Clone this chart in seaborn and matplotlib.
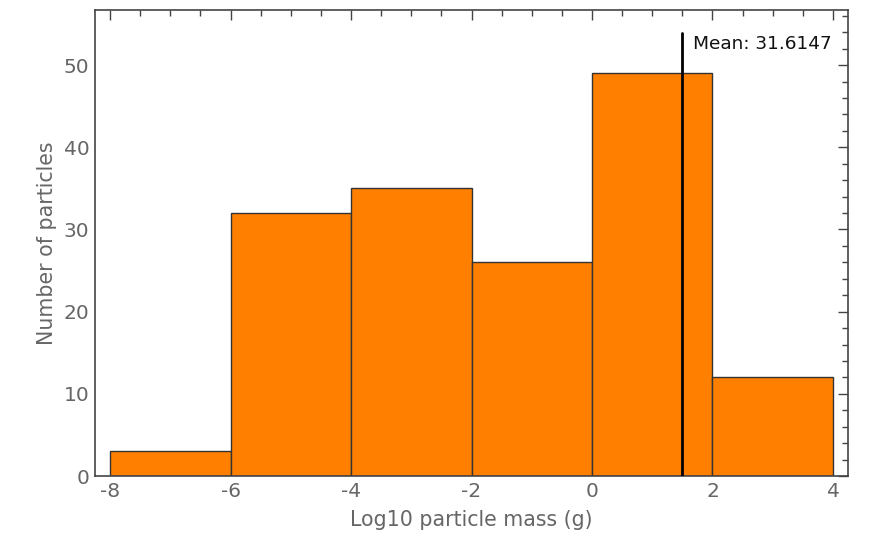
import numpy as np
import pandas as pd
import matplotlib
matplotlib.use("Agg")
import matplotlib.pyplot as plt
from matplotlib.ticker import MultipleLocator
import seaborn as sns

bin_edges = [-8, -6, -4, -2, 0, 2, 4]
counts = [3, 32, 35, 26, 49, 12]
mean_value = 31.6147
mean_label = "Mean: 31.6147"
x_label = "Log10 particle mass (g)"
y_label = "Number of particles"

sns.set_style("white")
plt.rcParams['font.family'] = ['DejaVu Sans']
plt.rcParams['axes.unicode_minus'] = False

centers = [(a + b) / 2 for a, b in zip(bin_edges[:-1], bin_edges[1:])]
df = pd.DataFrame({"logmass": centers, "n": counts})

fig = plt.figure(figsize=(8.76, 5.47), dpi=100)
ax = fig.add_axes([95/876, 71/547, 753/876, 466/547])

sns.histplot(data=df, x="logmass", weights="n", bins=bin_edges, ax=ax,
             color="#FF8000", alpha=1.0, edgecolor="#333333", linewidth=1.0)

mlog = np.log10(mean_value)
ax.plot([mlog, mlog], [0, 53.9], color="black", lw=2.0, zorder=5)
ax.text(mlog + 0.17, 52.6, mean_label, fontsize=13.3, color="#111111",
        ha="left", va="center")

ax.set_xlim(-8.25, 4.25)
ax.set_ylim(0, 56.7)
ax.xaxis.set_major_locator(MultipleLocator(2))
ax.xaxis.set_minor_locator(MultipleLocator(0.5))
ax.yaxis.set_major_locator(MultipleLocator(10))
ax.yaxis.set_minor_locator(MultipleLocator(2))
ax.tick_params(which="both", direction="in", top=True, right=True,
               color="#444444", width=1.0)
ax.tick_params(which="major", length=7, labelsize=14.5, labelcolor="#666666", pad=4)
ax.tick_params(which="minor", length=4)

for s in ax.spines.values():
    s.set_color("#444444")
    s.set_linewidth(1.2)

ax.set_xlabel(x_label, fontsize=14.8, color="#666666", labelpad=7)
ax.set_ylabel(y_label, fontsize=14.8, color="#666666", labelpad=5)

fig.text(0.998, 0.01, "8", fontsize=14, color="#999999", ha="left", va="bottom")

fig.savefig("out.png", dpi=100)
